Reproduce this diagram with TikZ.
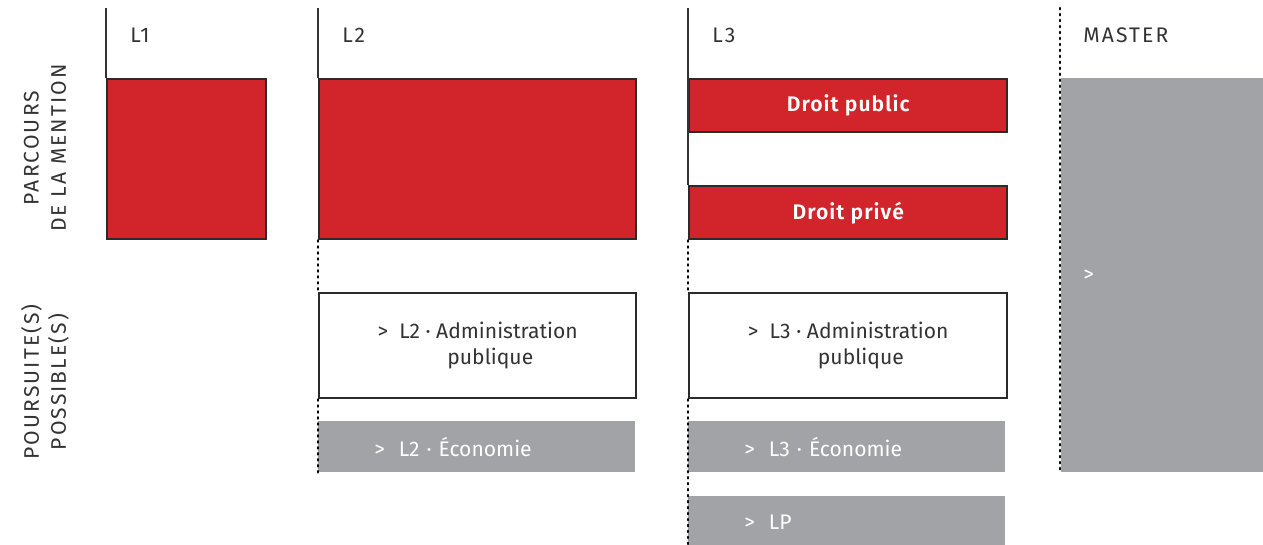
\documentclass[tikz,border=0pt]{standalone}
\usepackage{fontspec}
\setmainfont{Fira Sans}
\newfontfamily\capsfont[LetterSpace=10]{Fira Sans}
\newfontfamily\boldfont[LetterSpace=5]{Fira Sans SemiBold}
\usepackage{xcolor}
\usetikzlibrary{positioning}

\definecolor{ured}{HTML}{D1242B}
\definecolor{ugray}{HTML}{A2A3A7}
\definecolor{uline}{HTML}{2B2B2B}
\definecolor{utext}{HTML}{333333}

\tikzset{
    txt/.style={font=\fontsize{12}{14.5}\selectfont, text=utext},
    caps/.style={font=\capsfont\fontsize{12}{14.5}\selectfont, text=utext},
    redbox/.style={rectangle, draw=uline, line width=1.4pt, fill=ured, text=white, font=\boldfont\fontsize{12}{14.5}\selectfont, inner sep=0pt, anchor=north west},
    whitebox/.style={rectangle, draw=uline, line width=1.4pt, fill=white, txt, align=center, inner sep=0pt, anchor=north west},
    graybox/.style={rectangle, fill=ugray, text=white, font=\fontsize{12}{14.5}\selectfont, align=left, inner ysep=0pt, inner xsep=1.12cm, text width=4.1cm, minimum height=1.02cm, anchor=north west},
    dotline/.style={draw=black, line width=1.5pt, line cap=round, dash pattern=on 0.7pt off 2.7pt},
    yearline/.style={draw=utext, line width=0.6pt}
}

\begin{document}
\begin{tikzpicture}[x=0.02cm, y=-0.02cm]
    \useasboundingbox (0,0) rectangle (1263,544);

    % row titles
    \node[caps, rotate=90, align=center] (parcours) at (45,148) {PARCOURS\\[1pt]DE LA MENTION};
    \node[caps, rotate=90, align=center] (poursuite) at (45,382) {POURSUITE(S)\\[1pt]POSSIBLE(S)};

    % year titles
    \node[caps, anchor=west, inner xsep=0pt] (l1lab) at (130,35) {L1};
    \node[caps, anchor=west, inner xsep=0pt] (l2lab) at (342,35) {L2};
    \node[caps, anchor=west, inner xsep=0pt] (l3lab) at (712,35) {L3};
    \node[caps, anchor=west, inner xsep=0pt] (mlab) at (1083,35) {MASTER};

    \coordinate (l1top) at (106,8);
    \coordinate (l2top) at (318,8);
    \coordinate (l3top) at (688,8);
    \coordinate (mtop) at (1060,8);

    % parcours
    \node[redbox, minimum width=3.18cm, minimum height=3.2cm] (l1box) at (106,78) {};
    \node[redbox, minimum width=6.34cm, minimum height=3.2cm] (l2box) at (318,78) {};
    \node[redbox, minimum width=6.36cm, minimum height=1.06cm] (l3pub) at (688,78) {Droit public};
    \node[redbox, minimum width=6.36cm, minimum height=1.06cm] (l3priv) at (688,185) {Droit privé};

    % poursuites
    \node[whitebox, minimum width=6.34cm, minimum height=2.1cm] (l2adm) at (318,292) {>\ \ L2 · Administration\\\hspace*{1.2em}publique};
    \node[whitebox, minimum width=6.36cm, minimum height=2.1cm] (l3adm) at (688,292) {>\ \ L3 · Administration\\\hspace*{1.2em}publique};
    \node[graybox] (l2eco) at (318,421) {>\ \ L2 · Économie};
    \node[graybox] (l3eco) at (688,421) {>\ \ L3 · Économie};
    \node[graybox, minimum height=1.04cm] (lp) at (688,496) {>\ \ LP};
    \node[graybox, inner xsep=0.44cm, text width=3.16cm, minimum height=7.88cm] (master) at (1061,78) {>};

    % lines
    \draw[yearline] (l1top) -- (l1box.north west);
    \draw[yearline] (l2top) -- (l2box.north west);
    \draw[yearline] (l3top) -- (l3priv.north west);

    \draw[dotline] (l2box.south west) -- (l2adm.north west);
    \draw[dotline] (l2adm.south west) -- (l2eco.south west);
    \draw[dotline] (l3priv.south west) -- (l3adm.north west);
    \draw[dotline] (l3adm.south west) -- (lp.south west);
    \draw[dotline] (mtop) -- (master.south west -| mtop);
\end{tikzpicture}
\end{document}
